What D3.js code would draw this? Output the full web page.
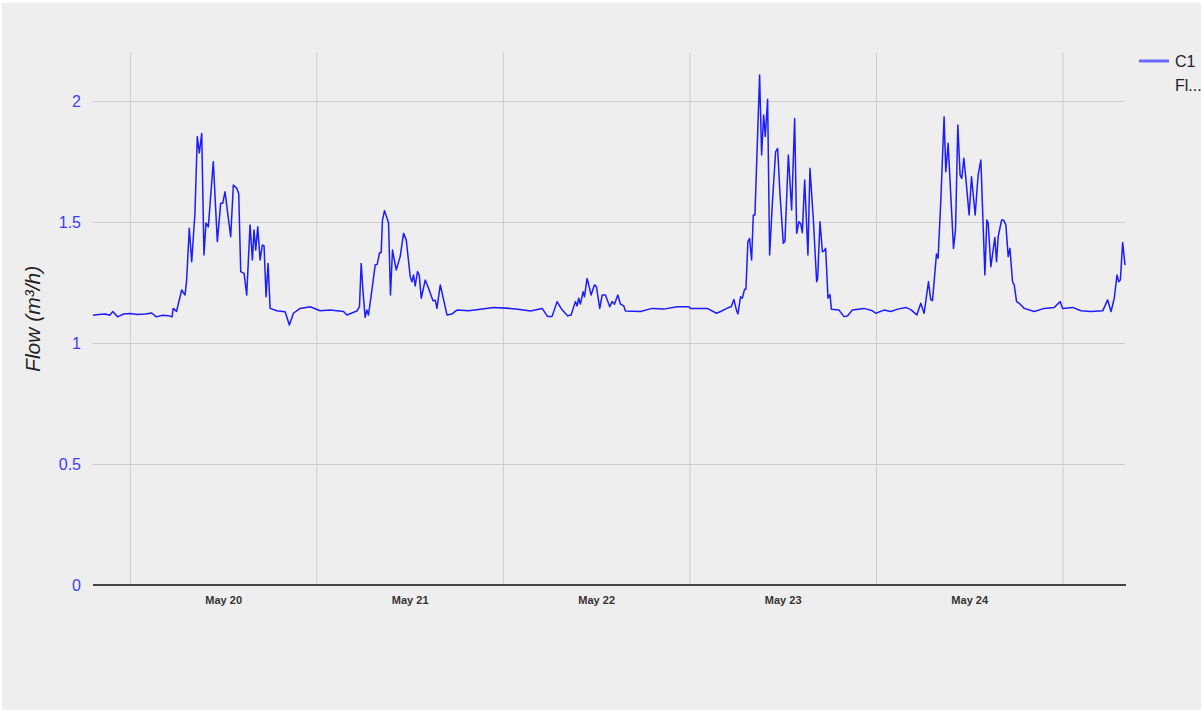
<!DOCTYPE html>
<html>
<head>
<meta charset="utf-8">
<script src="https://cdn.jsdelivr.net/npm/d3@7"></script>
<style>
  body { margin: 0; background: #fff; }
  svg { display: block; }
</style>
</head>
<body>
<div id="chart"></div>
<script>
// hours since May 20 00:00, flow in m3/h
const hours = [
  -4.75, -4.0, -3.2, -2.6, -2.2, -1.6, -0.8, 0.0, 1.0, 2.0, 2.8, 3.4, 4.2, 5.0, 5.41,
  5.58, 6.0, 6.66, 7.09, 7.3, 7.64, 7.95, 8.37, 8.67, 8.93, 9.24, 9.53, 9.79, 10.09, 10.73,
  11.25, 11.68, 11.94, 12.24, 12.53, 12.97, 13.31, 13.75, 14.0, 14.26, 14.69, 15.03, 15.46,
  15.76, 15.97, 16.19, 16.45, 16.75, 17.04, 17.26, 17.52, 17.78, 18.04, 18.9, 19.97, 20.52,
  21.04, 21.9, 23.19, 24.48,
  25.77, 27.48, 27.92, 29.2, 29.54, 29.76, 29.98, 30.27, 30.49, 30.7, 31.14, 31.56, 31.82,
  32.12, 32.33, 32.5, 32.76, 33.28, 33.53, 33.79, 34.27, 34.78, 35.21, 35.56, 36.07, 36.29,
  36.5, 36.71, 37.01, 37.23, 37.49, 38.0, 38.43, 39.0, 39.29, 39.51, 39.94, 40.8, 41.44,
  42.09, 43.6, 45.09, 46.8, 48.95, 50.2, 51.53, 53.04, 53.76, 54.33, 54.97, 55.48, 56.34, 56.77, 57.33,
  57.55, 57.75, 57.97, 58.32, 58.49, 58.83, 59.04, 59.35, 59.77, 60.03, 60.46, 60.77, 61.19,
  61.75, 62.05, 62.35, 62.78, 63.12, 63.55, 63.77, 65.7, 67.21, 68.7, 70.43, 71.92,
  72.14, 74.29, 75.49, 76.01, 77.07, 77.38, 77.72, 78.07, 78.24, 78.58, 78.8, 79.1, 79.27,
  79.52, 79.74, 80.0, 80.22, 80.43, 81.03, 81.29, 81.55, 81.76, 82.06, 82.32, 82.67, 83.09,
  83.35, 83.65, 84.08, 84.29, 84.73, 85.15, 85.54, 85.8, 86.09, 86.31, 86.53, 86.83, 87.25,
  87.51, 87.95, 88.37, 88.5, 88.8, 89.11, 89.32, 89.53, 89.83, 90.09, 90.27, 91.25, 91.89,
  92.33, 92.97, 94.47, 95.55, 95.97, 97.04,
  97.91, 98.81, 99.84, 100.48, 101.26, 101.77, 102.2, 102.76, 103.06, 103.28, 103.79, 104.0,
  104.35, 104.77, 104.99, 105.29, 105.64, 105.98, 106.24, 106.54, 106.83, 107.05, 107.31,
  107.57, 107.99, 108.3, 108.77, 109.15, 109.5, 110.02, 110.27, 110.44, 110.79, 111.3,
  111.52, 111.73, 112.17, 112.42, 112.72, 113.02, 113.24, 113.58, 113.79, 114.1, 114.44,
  115.08, 116.37, 117.66, 118.94, 119.71, 120.02, 121.31, 122.38, 123.67, 125.18, 125.82,
  126.25, 126.67, 127.02, 127.24, 127.45, 127.75, 128.05
];
const flow = [
  1.115, 1.118, 1.12, 1.115, 1.13, 1.108, 1.12, 1.122, 1.118, 1.12, 1.124, 1.108, 1.115, 1.113, 1.108,
  1.143, 1.13, 1.219, 1.198, 1.26, 1.474, 1.336, 1.537, 1.853, 1.785, 1.866, 1.364, 1.496, 1.48, 1.749,
  1.419, 1.577, 1.577, 1.625, 1.55, 1.439, 1.653, 1.639, 1.618, 1.295, 1.288, 1.198, 1.488,
  1.343, 1.467, 1.384, 1.48, 1.343, 1.405, 1.401, 1.191, 1.329, 1.143, 1.133, 1.129, 1.074,
  1.123, 1.143, 1.15, 1.133,
  1.136, 1.13, 1.116, 1.132, 1.15, 1.329, 1.219, 1.106, 1.136, 1.116, 1.219, 1.322, 1.325,
  1.373, 1.373, 1.508, 1.547, 1.497, 1.198, 1.384, 1.302, 1.357, 1.453, 1.426, 1.274, 1.253,
  1.281, 1.236, 1.295, 1.281, 1.185, 1.26, 1.226, 1.175, 1.177, 1.143, 1.24, 1.116, 1.12,
  1.136, 1.133, 1.139, 1.147, 1.143, 1.138, 1.132, 1.143, 1.109, 1.11, 1.171, 1.143, 1.112, 1.116, 1.171,
  1.153, 1.185, 1.161, 1.212, 1.191, 1.267, 1.24, 1.198, 1.24, 1.233, 1.143, 1.198, 1.198,
  1.15, 1.171, 1.16, 1.198, 1.161, 1.153, 1.132, 1.13, 1.143, 1.14, 1.15, 1.15,
  1.143, 1.143, 1.123, 1.13, 1.147, 1.15, 1.18, 1.133, 1.12, 1.191, 1.185, 1.222, 1.222,
  1.419, 1.432, 1.343, 1.529, 1.529, 2.107, 1.777, 1.942, 1.853, 2.007, 1.364, 1.577, 1.79,
  1.804, 1.618, 1.412, 1.42, 1.777, 1.55, 1.928, 1.453, 1.501, 1.494, 1.456, 1.674, 1.364,
  1.722, 1.508, 1.253, 1.267, 1.501, 1.377, 1.381, 1.391, 1.185, 1.2, 1.139, 1.136, 1.109,
  1.112, 1.136, 1.143, 1.133, 1.123, 1.136,
  1.13, 1.14, 1.147, 1.138, 1.116, 1.164, 1.123, 1.253, 1.178, 1.175, 1.368, 1.35,
  1.591, 1.935, 1.708, 1.825, 1.605, 1.391, 1.467, 1.901, 1.694, 1.68, 1.763,
  1.68, 1.529, 1.687, 1.529, 1.694, 1.756, 1.281, 1.508, 1.497, 1.315, 1.436,
  1.336, 1.439, 1.508, 1.508, 1.488, 1.357, 1.391, 1.253, 1.24, 1.171, 1.164,
  1.143, 1.13, 1.143, 1.147, 1.171, 1.143, 1.147, 1.133, 1.13, 1.133, 1.178,
  1.13, 1.185, 1.281, 1.253, 1.26, 1.415, 1.322
];
const dayLabels = ["May 20", "May 21", "May 22", "May 23", "May 24"];
const yTicks = [0, 0.5, 1, 1.5, 2];
const seriesName = "C1 Flow";

const W = 1203, H = 713;
const margin = {top: 52.6, right: 78, bottom: 128, left: 93};
const width = W - margin.left - margin.right,
      height = H - margin.top - margin.bottom;

const base = new Date(2016, 4, 20);
const toDate = h => new Date(base.getTime() + h * 3600e3);
const data = hours.map((h, i) => ({date: toDate(h), value: flow[i]}));

const svg = d3.select("#chart").append("svg")
    .attr("width", W)
    .attr("height", H);

svg.append("rect")
    .attr("x", 2).attr("y", 3)
    .attr("width", W - 4).attr("height", H - 6)
    .attr("fill", "#eeeeee");

const g = svg.append("g")
    .attr("transform", "translate(" + margin.left + "," + margin.top + ")");

const x = d3.scaleTime()
    .domain(d3.extent(data, d => d.date))
    .range([0, width]);

const y = d3.scaleLinear()
    .domain([0, 2.2])
    .range([height, 0]);

// vertical grid at day boundaries
const days = d3.timeDay.range(d3.timeDay.ceil(x.domain()[0]), x.domain()[1]);
const xGrid = g.append("g")
    .attr("transform", "translate(0," + height + ")")
    .call(d3.axisBottom(x).tickValues(days).tickSize(-height).tickFormat(""));
xGrid.select(".domain").remove();
xGrid.selectAll("line").attr("stroke", "#cccccc");

// y axis with horizontal grid
const yAxis = g.append("g")
    .call(d3.axisLeft(y).tickValues(yTicks).tickSize(-width).tickPadding(12).tickFormat(d3.format("")));
yAxis.select(".domain").remove();
yAxis.selectAll("line").attr("stroke", "#cccccc");
yAxis.selectAll("text")
    .attr("fill", "#3c3cff")
    .style("font-family", "'Liberation Sans', Arial, sans-serif")
    .style("font-size", "16px");

// x labels at noon of each day
const parseDay = d3.timeParse("%b %d %Y");
const labelDates = dayLabels.map(s => d3.timeHour.offset(parseDay(s + " 2016"), 12));
const xAxis = g.append("g")
    .attr("transform", "translate(0," + height + ")")
    .call(d3.axisBottom(x).tickValues(labelDates).tickSize(0).tickPadding(11)
        .tickFormat((d, i) => dayLabels[i]));
xAxis.select(".domain").remove();
xAxis.selectAll("text")
    .attr("fill", "#333")
    .style("font-family", "'Liberation Sans Narrow', 'Arial Narrow', sans-serif")
    .style("font-size", "11px")
    .style("font-weight", "bold");

// baseline
g.append("line")
    .attr("x1", 0).attr("x2", width + 1)
    .attr("y1", y(0)).attr("y2", y(0))
    .attr("stroke", "#444")
    .attr("stroke-width", 2);

// axis title
svg.append("text")
    .attr("transform", "translate(40," + (margin.top + y(1.1)) + ") rotate(-90)")
    .attr("text-anchor", "middle")
    .attr("fill", "#222")
    .style("font-family", "'Liberation Sans', Arial, sans-serif")
    .style("font-size", "21px")
    .style("font-style", "italic")
    .text("Flow (m³/h)");

// line
g.append("path")
    .datum(data)
    .attr("fill", "none")
    .attr("stroke", "#1c1cff")
    .attr("stroke-width", 1.5)
    .attr("stroke-linejoin", "round")
    .attr("d", d3.line()
        .x(d => x(d.date))
        .y(d => y(d.value)));

// legend
const legend = svg.append("g").attr("transform", "translate(1139,61)");
legend.append("line")
    .attr("x1", 0).attr("x2", 30)
    .attr("stroke", "#6b6bff")
    .attr("stroke-width", 3);
legend.append("text")
    .attr("x", 36).attr("y", 6)
    .attr("fill", "#222")
    .style("font-family", "'Liberation Sans', Arial, sans-serif")
    .style("font-size", "16px")
    .text(seriesName.split(" ")[0]);
legend.append("text")
    .attr("x", 36).attr("y", 30)
    .attr("fill", "#222")
    .style("font-family", "'Liberation Sans', Arial, sans-serif")
    .style("font-size", "16px")
    .text(seriesName.split(" ")[1].slice(0, 2) + "...");
</script>
</body>
</html>
